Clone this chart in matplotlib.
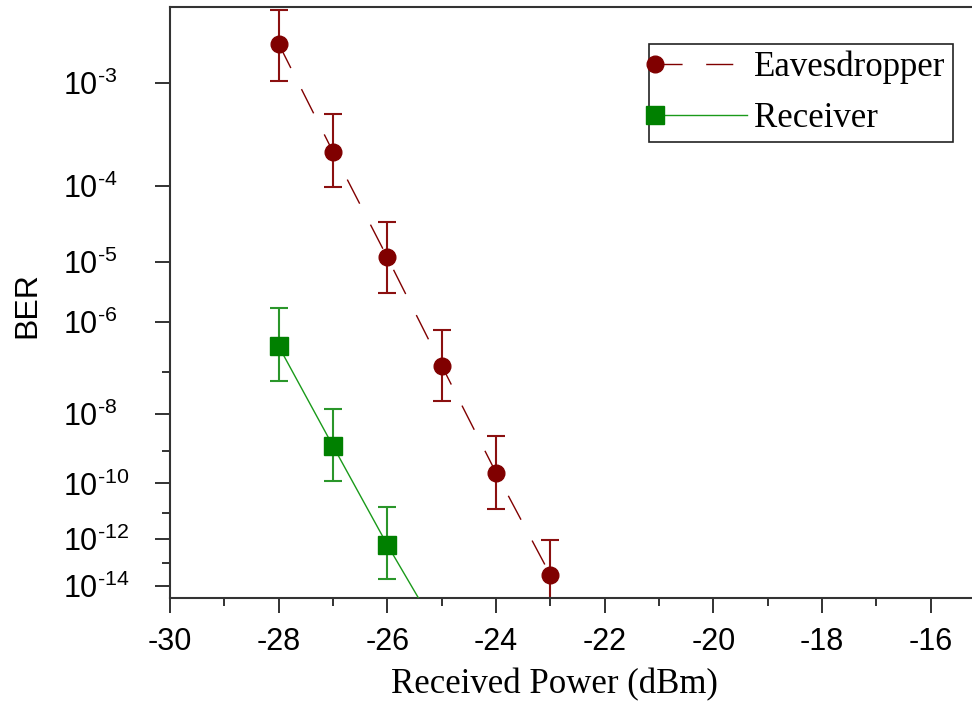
import math
from statistics import NormalDist

import matplotlib

matplotlib.use("Agg")
import matplotlib.pyplot as plt
import numpy as np
from matplotlib.legend_handler import HandlerLine2D
from matplotlib.lines import Line2D
from matplotlib.ticker import FixedLocator, MultipleLocator

plt.rcParams["font.family"] = "Liberation Sans"
plt.rcParams["mathtext.fontset"] = "custom"
plt.rcParams["mathtext.rm"] = "Liberation Sans"
plt.rcParams["mathtext.it"] = "Liberation Sans:italic"
plt.rcParams["axes.unicode_minus"] = False
plt.rcParams["lines.scale_dashes"] = False

# received power (dBm) and BER
eve_power = [-28, -27, -26, -25, -24, -23]
eve_ber = [2.0e-3, 2.35e-4, 1.16e-5, 1.35e-7, 2.2e-10, 3.1e-14]
eve_hi = [3.4e-3, 5.4e-4, 3.6e-5, 7.0e-7, 2.65e-9, 9.7e-13]
eve_lo = [1.05e-3, 9.6e-5, 3.2e-6, 2.1e-8, 1.35e-11, 6.0e-16]

rx_power = [-28, -27, -26, -25]
rx_ber = [3.4e-7, 1.37e-9, 5.9e-13, 2.2e-17]
rx_hi = [1.76e-6, 1.37e-8, 1.54e-11, 6.0e-16]
rx_lo = [6.3e-8, 1.2e-10, 1.95e-14, 7.0e-19]

major_ber = [1e-3, 1e-4, 1e-5, 1e-6, 1e-8, 1e-10, 1e-12, 1e-14]
minor_ber = [1e-7, 1e-9, 1e-11, 1e-13]
major_labels = [r"$\mathrm{10}^{\text{-%d}}$" % -round(math.log10(v)) for v in major_ber]

_nd = NormalDist()
_inv = np.vectorize(_nd.inv_cdf, otypes=[float])
_erfc = np.vectorize(math.erfc, otypes=[float])


def ber_fwd(b):
    """BER -> -log10(Q): the usual Q-factor style BER axis."""
    b = np.asarray(b, dtype=float)
    b = np.where(np.isfinite(b), np.clip(b, 1e-300, 0.49), 0.01)
    return -np.log10(-_inv(b))


def ber_inv(y):
    q = 10.0 ** (-np.asarray(y, dtype=float))
    return 0.5 * _erfc(q / np.sqrt(2))


class MarkerAtStart(HandlerLine2D):
    """Legend entry with the marker on the left end of the line (Origin style)."""
    def create_artists(self, legend, orig_handle, xdescent, ydescent,
                       width, height, fontsize, trans):
        y = (height - ydescent) / 2
        line = Line2D([-xdescent, -xdescent + width], [y, y])
        self.update_prop(line, orig_handle, legend)
        line.set_markevery([0])
        line.set_transform(trans)
        return [line]


RED = "#800000"
GREEN = "#008000"

fig = plt.figure(figsize=(9.72, 7.04), dpi=100)
ax = fig.add_axes([170 / 972, 106.3 / 704, 802 / 972, 590.7 / 704])
ax.set_yscale("function", functions=(ber_fwd, ber_inv))

ax.errorbar(eve_power, eve_ber,
            yerr=[np.subtract(eve_ber, eve_lo), np.subtract(eve_hi, eve_ber)],
            fmt="none", ecolor="#8b1010", elinewidth=1.5, capsize=6.2, capthick=1.5, zorder=2)
ax.errorbar(rx_power, rx_ber,
            yerr=[np.subtract(rx_ber, rx_lo), np.subtract(rx_hi, rx_ber)],
            fmt="none", ecolor="#2a962a", elinewidth=1.5, capsize=6.2, capthick=1.5, zorder=2)
eve_line, = ax.plot(eve_power, eve_ber, color=RED, lw=1.0, ls=(0, (19.5, 17)),
                    marker="o", ms=12, zorder=3, label="Eavesdropper")
rx_line, = ax.plot(rx_power, rx_ber, color="#1a9a1a", lw=1.0, marker="s", ms=13,
                   mfc=GREEN, mec=GREEN, zorder=3, label="Receiver")

ax.set_xlim(-30, -30 + 802 / 54.34)
ax.set_ylim(2.69e-15, 3.54e-3)
ax.xaxis.set_major_locator(MultipleLocator(2))
ax.xaxis.set_minor_locator(MultipleLocator(1))
ax.yaxis.set_major_locator(FixedLocator(major_ber))
ax.yaxis.set_minor_locator(FixedLocator(minor_ber))
ax.set_yticks(major_ber, major_labels)
ax.yaxis.set_minor_formatter(plt.NullFormatter())

ax.tick_params(which="both", direction="out", width=1.3, color="#222222", labelsize=22)
ax.tick_params(which="major", length=10.8)
ax.tick_params(which="minor", length=5.8)
ax.tick_params(axis="x", which="major", pad=10)
ax.tick_params(axis="y", which="major", pad=66)
for lbl in ax.get_yticklabels():
    lbl.set_ha("left")

for side in ("left", "bottom", "top"):
    ax.spines[side].set_linewidth(1.5)
    ax.spines[side].set_color("#333333")
ax.spines["right"].set_visible(False)

ax.set_xlabel("Received Power (dBm)", family="Liberation Serif", fontsize=25)
ax.xaxis.set_label_coords(0.479, -0.1613)
ax.xaxis.label.set_va("baseline")
ax.set_ylabel("BER", fontsize=23)
ax.yaxis.set_label_coords(-0.178, 0.496)
ax.yaxis.label.set_va("center")

leg = ax.legend(handles=[eve_line, rx_line], loc="upper right",
                bbox_to_anchor=(0.976, 0.938), borderaxespad=0,
                prop={"family": "Liberation Serif", "size": 25},
                handler_map={Line2D: MarkerAtStart()},
                handlelength=2.65, handletextpad=0.2, borderpad=0.2,
                labelspacing=0.51, fancybox=False, framealpha=1)
leg.get_frame().set_edgecolor("#222222")
leg.get_frame().set_linewidth(1.2)

fig.savefig("out.png", dpi=100)
